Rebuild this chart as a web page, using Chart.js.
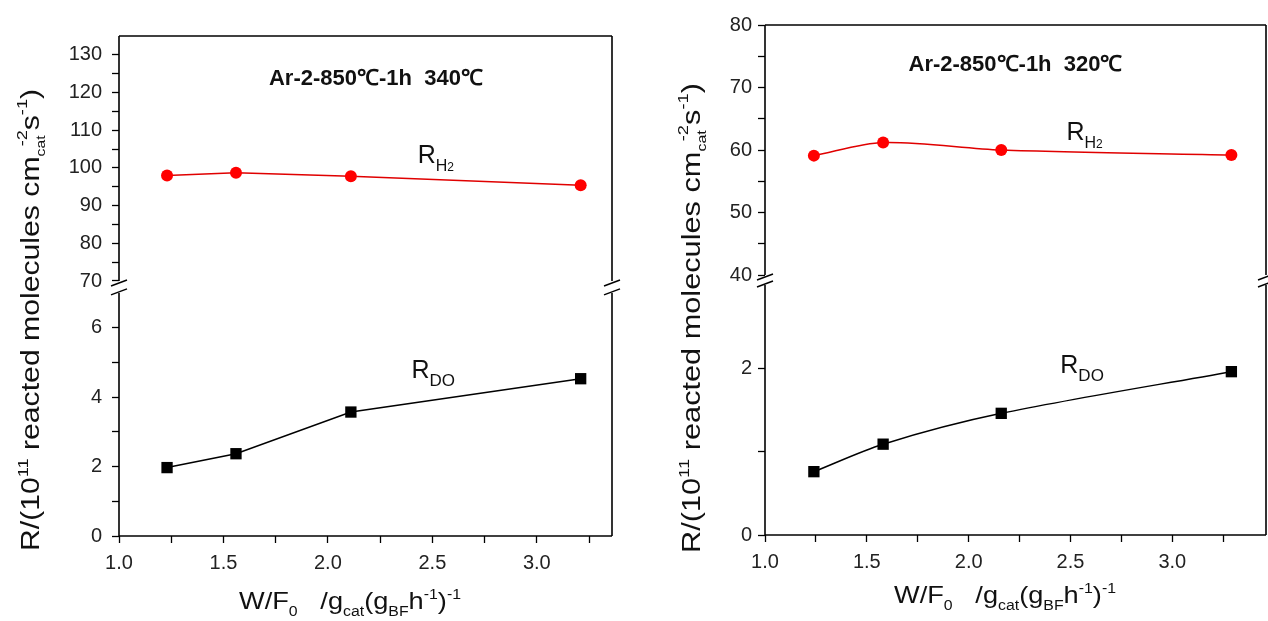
<!DOCTYPE html>
<html>
<head>
<meta charset="utf-8">
<script src="https://cdn.jsdelivr.net/npm/chart.js@4.4.0/dist/chart.umd.min.js"></script>
<style>
html, body { margin: 0; padding: 0; background: #fff; overflow: hidden; width: 1268px; height: 621px; }
.panel { position: absolute; top: 0; height: 621px; }
#left { left: 0; width: 640px; }
#right { left: 640px; width: 634px; }
</style>
</head>
<body>
<div class="panel" id="left"><canvas id="c1"></canvas></div>
<div class="panel" id="right"><canvas id="c2"></canvas></div>
<script>
// values (x positions as drawn against the tick marks)
const xLeft = [1.23, 1.56, 2.11, 3.21];
const h2Left = [98.0, 98.7, 97.8, 95.4];
const doLeft = [1.97, 2.37, 3.57, 4.53];

const xRight = [1.24, 1.58, 2.16, 3.29];
const h2Right = [59.1, 61.2, 60.0, 59.2];
const doRight = [0.76, 1.09, 1.46, 1.96];

const xTicks = [1.0, 1.5, 2.0, 2.5, 3.0];
const xMinor = [1.25, 1.75, 2.25, 2.75, 3.25];
const leftTopTicks = [70, 80, 90, 100, 110, 120, 130];
const leftTopMinor = [75, 85, 95, 105, 115, 125];
const leftBotTicks = [0, 2, 4, 6];
const leftBotMinor = [1, 3, 5];
const rightTopTicks = [40, 50, 60, 70, 80];
const rightTopMinor = [45, 55, 65, 75];
const rightBotTicks = [0, 2];
const rightBotMinor = [1];
// axis break: [top of lower part, bottom of upper part]
const leftBreak = [7, 70];
const rightBreak = [3, 40];

const titles = ['Ar-2-850\u2103-1h  340\u2103', 'Ar-2-850\u2103-1h  320\u2103'];

const FONT = "'Liberation Sans', Arial, Helvetica, sans-serif";

const yTitleParts = [
  {t: 'R/(10', s: 25}, {t: '11', s: 15, dy: -11}, {t: ' reacted molecules cm', s: 25},
  {t: 'cat', s: 13, dy: 6}, {t: '-2', s: 15, dy: -12, back: 9}, {t: 's', s: 25},
  {t: '-1', s: 15, dy: -12}, {t: ')', s: 25}
];
const xTitleParts = [
  {t: 'W/F', s: 24}, {t: '0', s: 14, dy: 7}, {t: '   /g', s: 24}, {t: 'cat', s: 14, dy: 7},
  {t: '(g', s: 24}, {t: 'BF', s: 14, dy: 7}, {t: 'h', s: 24}, {t: '-1', s: 14, dy: -10},
  {t: ')', s: 24}, {t: '-1', s: 14, dy: -10}
];

function richWidth(ctx, parts) {
  let w = 0;
  parts.forEach(p => {
    ctx.font = p.s + 'px ' + FONT;
    w += ctx.measureText(p.t).width - (p.back || 0);
  });
  return w;
}
function drawRich(ctx, parts, x, y) {
  let cx = x;
  parts.forEach(p => {
    ctx.font = p.s + 'px ' + FONT;
    cx -= (p.back || 0);
    ctx.fillText(p.t, cx, y + (p.dy || 0));
    cx += ctx.measureText(p.t).width;
  });
}

const panels = [
  {
    id: 'c1', xs: xLeft, h2: h2Left, dr: doLeft, tension: 0, xMax: 3.36,
    top: {min: 68.67, max: 135, major: leftTopTicks, minor: leftTopMinor},
    bot: {min: 0, max: 7.2, major: leftBotTicks, minor: leftBotMinor},
    brk: leftBreak, pad: {left: 0, top: 36, right: 28, bottom: 0}, yW: 119, xH: 85, lblPad: 10,
    title: titles[0], titleAt: [2.23, 123.7],
    h2At: [2.43, 101.4], doAt: [2.40, 4.56],
    yTitle: [30, 320, 462], xTitle: [350, 609, 222]
  },
  {
    id: 'c2', xs: xRight, h2: h2Right, dr: doRight, tension: 0.3, xMax: 3.46,
    top: {min: 39.2, max: 80, major: rightTopTicks, minor: rightTopMinor},
    bot: {min: 0, max: 3.06, major: rightBotTicks, minor: rightBotMinor},
    brk: rightBreak, pad: {left: 0, top: 25, right: 4, bottom: 0}, yW: 125, xH: 86, lblPad: 6,
    title: titles[1], titleAt: [2.23, 73.6],
    h2At: [2.48, 61.6], doAt: [2.45, 1.94],
    yTitle: [51, 318, 470], xTitle: [365, 603, 222]
  }
];

function yScale(P, part, weight) {
  return {
    type: 'linear', position: 'left', stack: 'yy', stackWeight: 1, weight: weight,
    min: part.min, max: part.max,
    afterBuildTicks: s => {
      s.ticks = part.major.concat(part.minor).sort((a, b) => a - b).map(v => ({value: v}));
    },
    afterFit: s => { s.width = P.yW; },
    ticks: {
      autoSkip: false, padding: P.lblPad, color: '#222',
      font: {family: FONT, size: 20},
      callback: v => part.major.includes(v) ? String(v) : ''
    },
    grid: {drawOnChartArea: false, tickLength: 7, tickColor: '#000', tickWidth: 1.3},
    border: {display: false}
  };
}

const framePlugin = {
  id: 'frame',
  afterDraw(chart) {
    const P = chart.options.plugins.frame.panel;
    const ctx = chart.ctx, ca = chart.chartArea;
    const sx = chart.scales.x, st = chart.scales.yTop, sb = chart.scales.yBot;
    const yUp = st.getPixelForValue(P.brk[1]);
    const yLo = sb.getPixelForValue(P.brk[0]);
    ctx.save();
    ctx.strokeStyle = '#000';
    ctx.lineWidth = 1.6;
    const seg = (x1, y1, x2, y2) => { ctx.beginPath(); ctx.moveTo(x1, y1); ctx.lineTo(x2, y2); ctx.stroke(); };
    seg(ca.left, ca.top, ca.right, ca.top);
    seg(ca.left, ca.bottom, ca.right, ca.bottom);
    [ca.left, ca.right].forEach(x => {
      seg(x, ca.top, x, yUp);
      seg(x, yLo, x, ca.bottom);
      ctx.lineWidth = 1.4;
      seg(x - 8, yUp + 5, x + 8, yUp - 1);
      seg(x - 8, yLo + 2, x + 8, yLo - 4);
      ctx.lineWidth = 1.6;
    });

    ctx.fillStyle = '#111';
    // panel title
    ctx.font = 'bold 22px ' + FONT;
    ctx.textAlign = 'center';
    ctx.textBaseline = 'middle';
    ctx.fillText(P.title, sx.getPixelForValue(P.titleAt[0]), st.getPixelForValue(P.titleAt[1]));

    // series labels
    ctx.textAlign = 'left';
    ctx.textBaseline = 'alphabetic';
    drawRich(ctx, [{t: 'R', s: 25}, {t: 'H', s: 16, dy: 8}, {t: '2', s: 12, dy: 8}],
      sx.getPixelForValue(P.h2At[0]), st.getPixelForValue(P.h2At[1]));
    drawRich(ctx, [{t: 'R', s: 25}, {t: 'DO', s: 17, dy: 8}],
      sx.getPixelForValue(P.doAt[0]), sb.getPixelForValue(P.doAt[1]));

    // x axis title
    const xw = richWidth(ctx, xTitleParts);
    ctx.save();
    ctx.translate(P.xTitle[0], P.xTitle[1]);
    ctx.scale(P.xTitle[2] / xw, 1);
    drawRich(ctx, xTitleParts, -xw / 2, 0);
    ctx.restore();

    // y axis title, rotated
    const yw = richWidth(ctx, yTitleParts);
    ctx.save();
    ctx.translate(P.yTitle[0] + 9, P.yTitle[1]);
    ctx.rotate(-Math.PI / 2);
    ctx.scale(P.yTitle[2] / yw, 1);
    drawRich(ctx, yTitleParts, -yw / 2, 0);
    ctx.restore();
    ctx.restore();
  }
};

panels.forEach(P => {
  new Chart(document.getElementById(P.id), {
    type: 'line',
    data: {
      datasets: [{
        data: P.xs.map((x, i) => ({x: x, y: P.h2[i]})),
        yAxisID: 'yTop',
        borderColor: '#e00000',
        backgroundColor: '#ff0000',
        borderWidth: 1.5,
        pointStyle: 'circle',
        pointRadius: 6,
        pointBorderWidth: 0,
        tension: P.tension,
        fill: false
      }, {
        data: P.xs.map((x, i) => ({x: x, y: P.dr[i]})),
        yAxisID: 'yBot',
        borderColor: '#000',
        backgroundColor: '#000',
        borderWidth: 1.5,
        pointStyle: 'rect',
        pointRadius: 8,
        pointBorderWidth: 0,
        tension: P.tension,
        fill: false
      }]
    },
    options: {
      responsive: true,
      maintainAspectRatio: false,
      animation: false,
      layout: {padding: P.pad},
      plugins: {legend: {display: false}, tooltip: {enabled: false}, frame: {panel: P}},
      scales: {
        x: {
          type: 'linear', min: 1.0, max: P.xMax,
          afterBuildTicks: s => {
            s.ticks = xTicks.concat(xMinor).sort((a, b) => a - b).map(v => ({value: v}));
          },
          afterFit: s => { s.height = P.xH; },
          ticks: {
            autoSkip: false, maxRotation: 0, padding: 8, color: '#222',
            font: {family: FONT, size: 20},
            callback: v => xTicks.includes(v) ? v.toFixed(1) : ''
          },
          grid: {drawOnChartArea: false, tickLength: 7, tickColor: '#000', tickWidth: 1.3},
          border: {display: false}
        },
        yBot: yScale(P, P.bot, 0),
        yTop: yScale(P, P.top, 1)
      }
    },
    plugins: [framePlugin]
  });
});
</script>
</body>
</html>
